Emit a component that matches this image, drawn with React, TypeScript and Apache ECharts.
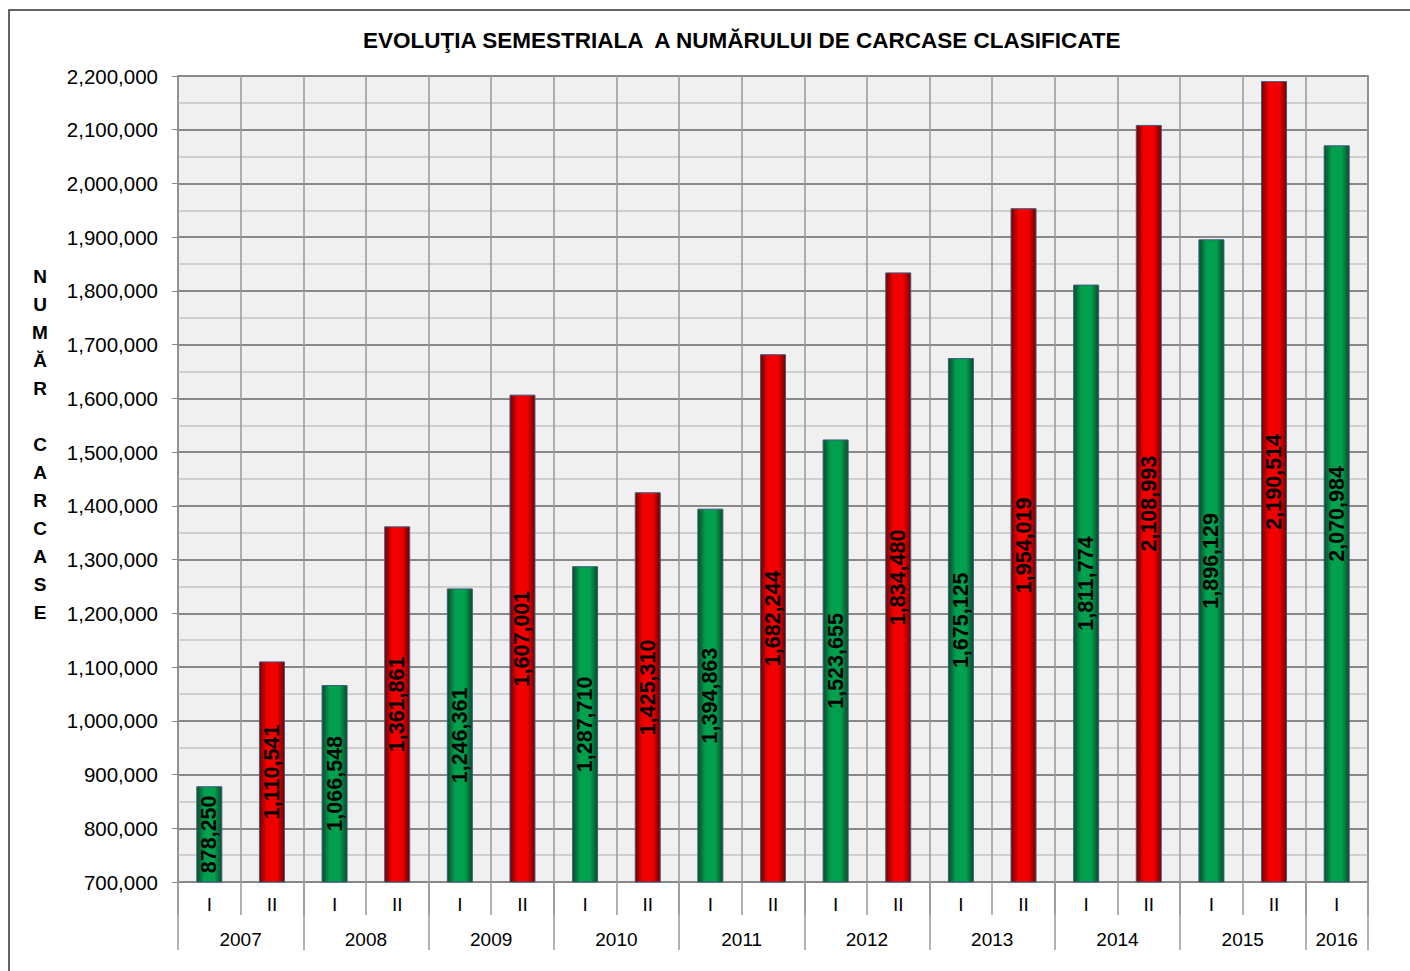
import React, { useEffect, useRef } from "react";
import * as echarts from "echarts";

const semesters = ["I", "II", "I", "II", "I", "II", "I", "II", "I", "II", "I", "II", "I", "II", "I", "II", "I", "II", "I"];
const years = ["2007", "2008", "2009", "2010", "2011", "2012", "2013", "2014", "2015", "2016"];
const values = [878250, 1110541, 1066548, 1361861, 1246361, 1607001, 1287710, 1425310, 1394863, 1682244, 1523655, 1834480, 1675125, 1954019, 1811774, 2108993, 1896129, 2190514, 2070984];
const yTicks = { min: 700000, max: 2200000, interval: 100000 };
const title = "EVOLUŢIA SEMESTRIALA  A NUMĂRULUI DE CARCASE CLASIFICATE";
const yName = "N\nU\nM\nĂ\nR\n\nC\nA\nR\nC\nA\nS\nE";

const fmt = (v: number) => v.toLocaleString("en-US");

export default function App() {
  const ref = useRef<HTMLDivElement>(null);
  useEffect(() => {
    if (!ref.current) return;
    const chart = echarts.init(ref.current, null, { renderer: "svg" });
    const font = "'Liberation Sans', Arial, sans-serif";

    // year axis: half-slot points (2 per semester + 1)
    const yearAxisData: string[] = new Array(semesters.length * 2 + 1).fill("");
    const yearBounds: number[] = [];
    let pos = 0;
    let yi = 0;
    for (let i = 0; i < semesters.length; i++) {
      if (semesters[i] === "I") {
        const span = semesters[i + 1] === "II" ? 2 : 1;
        yearBounds.push(pos);
        yearAxisData[pos + span] = years[yi++];
      }
      pos += 2;
    }
    yearBounds.push(pos);

    const green = new echarts.graphic.LinearGradient(0, 0, 1, 0, [
      { offset: 0, color: "#0a4a28" },
      { offset: 0.3, color: "#00a04e" },
      { offset: 0.7, color: "#00a04e" },
      { offset: 1, color: "#0a4a28" },
    ]);
    const red = new echarts.graphic.LinearGradient(0, 0, 1, 0, [
      { offset: 0, color: "#700000" },
      { offset: 0.3, color: "#f20000" },
      { offset: 0.7, color: "#f20000" },
      { offset: 1, color: "#700000" },
    ]);

    chart.setOption({
      animation: false,
      backgroundColor: "#ffffff",
      title: {
        text: title,
        left: 358,
        top: 24,
        textStyle: { fontFamily: font, fontWeight: "bold", fontSize: 22.5, color: "#000" },
      },
      graphic: [
        {
          type: "rect",
          shape: { x: 9, y: 10, width: 1430, height: 1000 },
          style: { fill: "none", stroke: "#333", lineWidth: 1.5 },
          z: -1,
        },
        {
          type: "text",
          x: 40,
          y: 262,
          style: {
            text: yName,
            font: `bold 19px ${font}`,
            fill: "#000",
            textAlign: "center",
            lineHeight: 28,
          },
        },
      ],
      grid: {
        left: 178,
        right: 42,
        top: 76,
        bottom: 89,
        show: true,
        backgroundColor: "#f0f0f0",
        borderColor: "#555",
        borderWidth: 1.5,
      },
      xAxis: [
        {
          type: "category",
          data: semesters,
          position: "bottom",
          axisLine: { show: false },
          axisTick: { show: true, interval: 0, length: 33, lineStyle: { color: "#999", width: 1.5 } },
          axisLabel: { interval: 0, margin: 13, fontFamily: font, fontSize: 19, color: "#000" },
          splitLine: { show: true, interval: 0, lineStyle: { color: "#999", width: 1.5 } },
        },
        {
          type: "category",
          data: yearAxisData,
          boundaryGap: false,
          position: "bottom",
          axisLine: { show: false },
          axisTick: {
            show: true,
            interval: (idx: number) => yearBounds.indexOf(idx) >= 0,
            length: 68,
            lineStyle: { color: "#999", width: 1.5 },
          },
          axisLabel: {
            interval: 0,
            margin: 48,
            fontFamily: font,
            fontSize: 19,
            color: "#000",
          },
          splitLine: { show: false },
        },
      ],
      yAxis: {
        type: "value",
        min: yTicks.min,
        max: yTicks.max,
        interval: yTicks.interval,
        axisLine: { show: false },
        axisTick: { show: true, length: 6, lineStyle: { color: "#888" } },
        axisLabel: { margin: 20, fontFamily: font, fontSize: 20.5, color: "#000", formatter: (v: number) => fmt(v) },
        splitLine: { show: true, lineStyle: { color: "#888", width: 2 } },
        minorTick: { show: false, splitNumber: 2 },
        minorSplitLine: { show: true, lineStyle: { color: "#c4c4c4", width: 1.5 } },
      },
      series: [
        {
          type: "bar",
          xAxisIndex: 0,
          barWidth: 26,
          data: values.map((v, i) => ({
            value: v,
            itemStyle: {
              color: semesters[i] === "I" ? green : red,
              borderColor: "#3e5b82",
              borderWidth: 1,
            },
          })),
          label: {
            show: true,
            position: "inside",
            rotate: 90,
            formatter: (p: any) => fmt(p.value),
            fontFamily: font,
            fontWeight: "bold",
            fontSize: 21.5,
            color: "#000",
            textBorderWidth: 0,
          },
        },
      ],
    });
    return () => chart.dispose();
  }, []);
  return <div ref={ref} style={{ position: "absolute", left: 0, top: 0, width: 1410, height: 971 }} />;
}
